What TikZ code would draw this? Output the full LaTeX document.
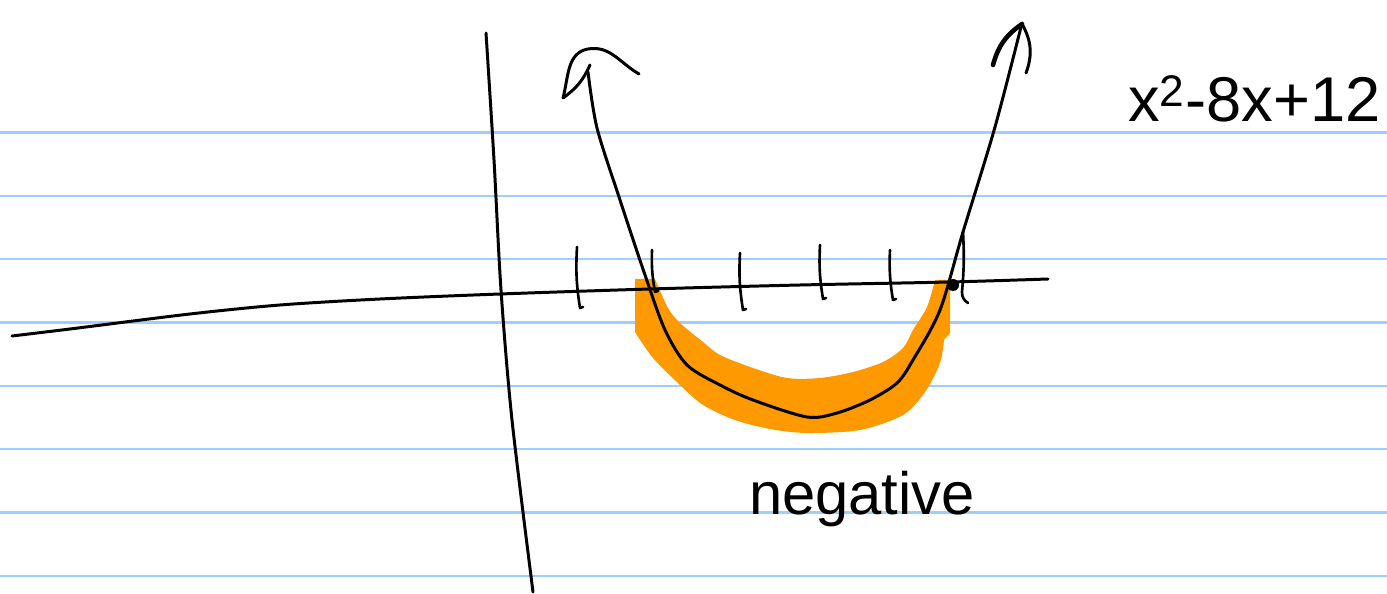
\documentclass[tikz,border=0pt]{standalone}
\usepackage{fontspec}
\setmainfont{Liberation Sans}
\usetikzlibrary{positioning}
\definecolor{ruleblue}{RGB}{158,206,255}
\definecolor{marker}{RGB}{255,153,0}
\tikzset{
  x=0.02cm, y=-0.02cm, % one unit is one pixel of the page
  rule/.style={ruleblue, line width=1.4pt}, % the ruled lines of the notebook
  pen/.style={black, line width=1.7pt, line cap=round, line join=round}, % black ink
  tickmark/.style={pen, line width=1.5pt},
  highlight/.style={fill=marker},
  scrawl/.style={inner sep=0pt, font=\fontsize{34}{36}\selectfont},
}

\begin{document}
\begin{tikzpicture}
  \useasboundingbox (0,0) rectangle (1387,594);

  % ruled paper
  \foreach \i in {0,...,7}
    \draw[rule] (0,{132.5+63.35*\i}) -- (1387,{132.5+63.35*\i});

  % the negative part, marked in orange
  \fill[highlight] (635,279) -- (635,332)
    -- plot[smooth] coordinates {(635,332) (653,358) (680,385) (703,405) (735,420)
                                 (770,429) (807,433) (860,430) (903,415) (925,392)
                                 (940,363) (944,340)}
    -- (950,333) -- (950,280) -- (935,280)
    -- plot[smooth] coordinates {(935,280) (927,307) (913,330) (903,348) (883,362)
                                 (853,372) (820,378) (787,378) (753,368) (720,355)
                                 (703,342) (680,323) (668,308) (655,279)}
    -- cycle;

  % axes
  \draw[pen] plot[smooth] coordinates {(486,33) (494,160) (501,290) (512,420) (533,592)};
  \draw[pen] plot[smooth] coordinates {(12,336) (70,329) (190,314) (280,305) (380,299)
                                       (500,294) (650,289) (800,285) (950,282) (1048,279)};

  % ticks
  \foreach \tx/\ta/\tb in {577/247/308, 652/250/292, 740/253/310, 820/245/299, 890/250/300}
    \draw[tickmark] (\tx,\ta) to[bend right=6] (\tx+3,\tb) -- (\tx+6,\tb-1);
  \draw[tickmark] (963,232) to[bend left=4] (962,292) to[bend right=30] (968,303);
  \fill (953,285) circle (6);

  % the parabola
  \draw[pen] plot[smooth] coordinates {(588,72) (597,128) (620,200) (645,275) (665,330)
                                       (687,365) (720,385) (753,400) (807,417) (837,413)
                                       (870,400) (897,383) (913,360) (940,310) (963,232)
                                       (995,127) (1022,23)};
  % hand drawn arrow heads
  \draw[pen] (590,65) to[bend left=15] (563,98) to[out=75, in=190] (588,49)
    to[out=10, in=150] (639,74);
  \draw[pen, line width=2.6pt] (1022,24) to[bend right=20] (993,65);
  \draw[pen] (1022,24) to[bend left=25] (1026,73);

  % labels
  \node[scrawl, anchor=base west, font=\fontsize{36}{38}\selectfont] (poly) at (1128,122)
    {x\textsuperscript{2}-8x+12};
  \node[scrawl, anchor=base] (neg) at (862,515) {negative};
\end{tikzpicture}
\end{document}
